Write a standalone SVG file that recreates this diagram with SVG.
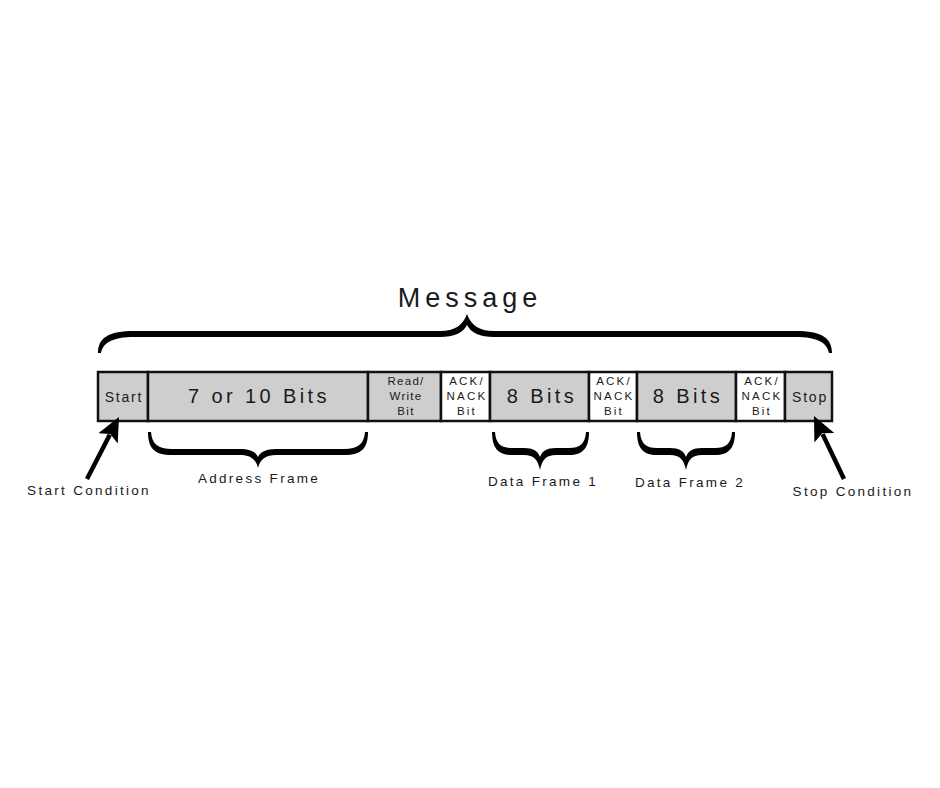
<svg xmlns="http://www.w3.org/2000/svg" width="940" height="788" viewBox="0 0 940 788">
<style>
.cell{stroke:#111;stroke-width:2.5}
.g{fill:#cecece}
.w{fill:#ffffff}
text{font-family:"Liberation Sans",Arial,sans-serif;fill:#1a1a1a;text-anchor:middle}
.big{font-size:20px;letter-spacing:3.4px}
.med{font-size:14px;letter-spacing:1.8px}
.sm{font-size:11.5px;letter-spacing:2.2px}
.rw{font-size:11.5px;letter-spacing:1.3px}
.lbl{font-size:13.5px;letter-spacing:2.3px}
.brace{fill:#000}
.arrow{stroke:#000;stroke-width:4.5;fill:none}
</style>
<defs>
<marker id="ah" markerUnits="userSpaceOnUse" markerWidth="30" markerHeight="30" refX="4" refY="11" orient="auto">
<path d="M0,0 L24,11 L0,22 L5,11 Z" fill="#000"/>
</marker>
</defs>
<rect width="940" height="788" fill="#fff"/>
<g id="message">
<text x="470" y="307" style="font-size:27px;letter-spacing:5px">Message</text>
<path class="brace" d="M98,353 C98,338 108,331 135,331 L440,331 C455,331 463,325 467,314 C471,325 479,331 494,331 L795,331 C822,331 832,338 832,353 L829,353 C827,343 818,337 795,337 L494,337 C480,337 471,333 467,325 C463,333 454,337 440,337 L135,337 C112,337 103,343 101,353 Z"/>
</g>
<g id="start">
<rect class="cell g" x="98" y="372" width="50" height="49"/>
<text class="med" x="124" y="402">Start</text>
</g>
<g id="address">
<rect class="cell g" x="148" y="372" width="220" height="49"/>
<text class="big" x="259" y="403">7 or 10 Bits</text>
</g>
<g id="readwrite">
<rect class="cell g" x="368" y="372" width="73" height="49"/>
<text class="rw" x="406" y="385">Read/</text>
<text class="rw" x="406" y="400">Write</text>
<text class="rw" x="406" y="415">Bit</text>
</g>
<g id="ack1">
<rect class="cell w" x="441" y="372" width="49" height="49"/>
<text class="sm" x="467" y="385">ACK/</text>
<text class="sm" x="467" y="400">NACK</text>
<text class="sm" x="467" y="415">Bit</text>
</g>
<g id="data1">
<rect class="cell g" x="490" y="372" width="99" height="49"/>
<text class="big" x="542" y="403">8 Bits</text>
</g>
<g id="ack2">
<rect class="cell w" x="589" y="372" width="48" height="49"/>
<text class="sm" x="614" y="385">ACK/</text>
<text class="sm" x="614" y="400">NACK</text>
<text class="sm" x="614" y="415">Bit</text>
</g>
<g id="data2">
<rect class="cell g" x="637" y="372" width="99" height="49"/>
<text class="big" x="688" y="403">8 Bits</text>
</g>
<g id="ack3">
<rect class="cell w" x="736" y="372" width="49" height="49"/>
<text class="sm" x="762" y="385">ACK/</text>
<text class="sm" x="762" y="400">NACK</text>
<text class="sm" x="762" y="415">Bit</text>
</g>
<g id="stop">
<rect class="cell g" x="785" y="372" width="47" height="49"/>
<text class="med" x="810" y="402">Stop</text>
</g>
<g id="address-frame">
<path class="brace" d="M148,432 C148,448 154,455 172,455 L240,455 C250,455 256,459 258,468 C260,459 266,455 276,455 L344,455 C362,455 368,448 368,432 L365,432 C364,444 358,449 344,449 L276,449 C266,449 260,452 258,457 C256,452 250,449 240,449 L172,449 C158,449 152,444 151,432 Z"/>
<text class="lbl" x="259" y="483">Address Frame</text>
</g>
<g id="data-frame-1">
<path class="brace" d="M492,432 C492,448 498,455 512,455 L524,455 C534,455 538,460 540,470 C542,460 546,455 556,455 L569,455 C583,455 589,448 589,432 L586,432 C585,444 580,448 569,448 L556,448 C547,448 542,451 540,457 C538,451 533,448 524,448 L512,448 C501,448 496,444 495,432 Z"/>
<text class="lbl" x="543" y="486">Data Frame 1</text>
</g>
<g id="data-frame-2">
<path class="brace" d="M637,432 C637,448 643,455 657,455 L670,455 C680,455 684,460 686,470 C688,460 692,455 702,455 L715,455 C729,455 735,448 735,432 L732,432 C731,444 726,448 715,448 L702,448 C693,448 688,451 686,457 C684,451 679,448 670,448 L657,448 C646,448 641,444 640,432 Z"/>
<text class="lbl" x="690" y="487">Data Frame 2</text>
</g>
<g id="start-condition">
<text class="lbl" x="89" y="495">Start Condition</text>
</g>
<g id="stop-condition">
<text class="lbl" x="853" y="496">Stop Condition</text>
</g>
<g id="connectors">
<line class="arrow" x1="87" y1="479" x2="109.8" y2="434.8" marker-end="url(#ah)"/>
<line class="arrow" x1="844" y1="479" x2="822.6" y2="434.1" marker-end="url(#ah)"/>
</g>
</svg>
